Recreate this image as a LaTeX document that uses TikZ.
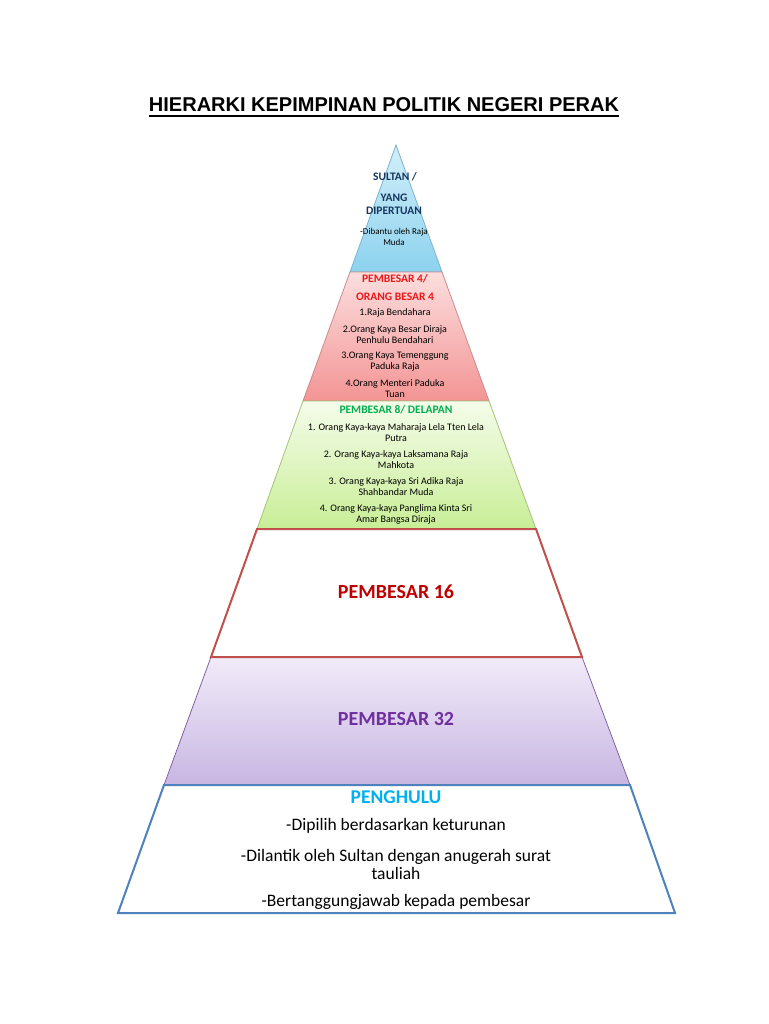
\documentclass[tikz,border=0pt]{standalone}
\usepackage{fontspec}
\setmainfont{Carlito}
\newfontfamily\arialfont{Liberation Sans}
\usetikzlibrary{calc}
\definecolor{blueT}{RGB}{210,239,250}
\definecolor{blueB}{RGB}{140,210,238}
\definecolor{blueE}{RGB}{120,180,210}
\definecolor{redT}{RGB}{252,222,222}
\definecolor{redB}{RGB}{243,148,148}
\definecolor{redE}{RGB}{200,140,140}
\definecolor{grnT}{RGB}{245,252,234}
\definecolor{grnB}{RGB}{200,238,150}
\definecolor{grnE}{RGB}{165,195,120}
\definecolor{purT}{RGB}{241,235,249}
\definecolor{purB}{RGB}{200,182,226}
\definecolor{purE}{RGB}{128,100,162}
\definecolor{redLine}{RGB}{192,80,77}
\definecolor{blueLine}{RGB}{79,129,189}
\definecolor{navyTxt}{RGB}{23,55,94}
\definecolor{redTxt}{RGB}{235,25,25}
\definecolor{grnTxt}{RGB}{0,176,80}
\definecolor{darkRedTxt}{RGB}{192,0,0}
\definecolor{purTxt}{RGB}{112,48,160}
\definecolor{cyanTxt}{RGB}{0,176,240}
\begin{document}
\begin{tikzpicture}[x=1pt,y=-1pt,
  head/.style={font=\bfseries\fontsize{11.5}{13}\selectfont, align=center, inner sep=0},
  small/.style={font=\fontsize{10}{11}\selectfont, align=center, inner sep=0},
  tiny/.style={font=\fontsize{9}{11}\selectfont, align=center, inner sep=0},
  big/.style={font=\bfseries\fontsize{20}{24}\selectfont, align=center, inner sep=0},
  body/.style={font=\fontsize{17.5}{18}\selectfont, align=center, inner sep=0}]
\useasboundingbox[fill=white] (0,0) rectangle (768,1024);
% pyramid corners
\coordinate (apex) at (396,145);
\coordinate (l1) at (350,272); \coordinate (r1) at (442,272);
\coordinate (l2) at (303,401); \coordinate (r2) at (489,401);
\coordinate (l3) at (257,529); \coordinate (r3) at (536,529);
\coordinate (l4) at (211,657); \coordinate (r4) at (582,657);
\coordinate (l5) at (164,785); \coordinate (r5) at (630,785);
\coordinate (l6) at (118,913); \coordinate (r6) at (675,913);
% layers
\shade[top color=blueT, bottom color=blueB, draw=blueE, line width=0.8] (apex) -- (r1) -- (l1) -- cycle;
\shade[top color=redT, bottom color=redB, draw=redE, line width=0.8] (l1) -- (r1) -- (r2) -- (l2) -- cycle;
\shade[top color=grnT, bottom color=grnB, draw=grnE, line width=0.8] (l2) -- (r2) -- (r3) -- (l3) -- cycle;
\shade[top color=purT, bottom color=purB, draw=purE, line width=0.8] (l4) -- (r4) -- (r5) -- (l5) -- cycle;
\draw[redLine, line width=2] (l3) -- (r3) -- (r4) -- (l4) -- cycle;
\draw[blueLine, line width=2] (l5) -- (r5) -- (r6) -- (l6) -- cycle;
% title
\node[font=\arialfont\bfseries\fontsize{20}{24}\selectfont, inner sep=0, anchor=base] (title) at (384,111.5) {HIERARKI KEPIMPINAN POLITIK NEGERI PERAK};
\draw[line width=2] ($(title.base west)+(0,4.5)$) -- ($(title.base east)+(0,4.5)$);
% layer 1
\node[head, text=navyTxt] (sultan) at (395,177) {SULTAN /};
\node[head, text=navyTxt] (yang) at (394,204.5) {YANG\\DIPERTUAN};
\node[tiny] (dibantu) at (394,237) {-Dibantu oleh Raja\\Muda};
% layer 2
\node[head, text=redTxt] (p4) at (395,279) {PEMBESAR 4/};
\node[head, text=redTxt] (ob4) at (395,297) {ORANG BESAR 4};
\node[small] (a1) at (395,313) {1.Raja Bendahara};
\node[small] (a2) at (395,335) {2.Orang Kaya Besar Diraja\\Penhulu Bendahari};
\node[small] (a3) at (395,362) {3.Orang Kaya Temenggung\\Paduka Raja};
\node[small] (a4) at (395,389) {4.Orang Menteri Paduka\\Tuan};
% layer 3
\node[head, text=grnTxt] (p8) at (396,410) {PEMBESAR 8/ DELAPAN};
\node[small] (b1) at (396,433) {1. Orang Kaya-kaya Maharaja Lela Tten Lela\\Putra};
\node[small] (b2) at (396,460) {2. Orang Kaya-kaya Laksamana Raja\\Mahkota};
\node[small] (b3) at (396,487) {3. Orang Kaya-kaya Sri Adika Raja\\Shahbandar Muda};
\node[small] (b4) at (396,514) {4. Orang Kaya-kaya Panglima Kinta Sri\\Amar Bangsa Diraja};
% layer 4
\node[big, text=darkRedTxt] (p16) at (396,592) {PEMBESAR 16};
% layer 5
\node[big, text=purTxt] (p32) at (396,719) {PEMBESAR 32};
% layer 6
\node[big, font=\bfseries\fontsize{19.5}{22}\selectfont, text=cyanTxt] (penghulu) at (396,797) {PENGHULU};
\node[body] (c1) at (396,826) {-Dipilih berdasarkan keturunan};
\node[body] (c2) at (396,864) {-Dilantik oleh Sultan dengan anugerah surat\\tauliah};
\node[body] (c3) at (396,902) {-Bertanggungjawab kepada pembesar};
\end{tikzpicture}
\end{document}
